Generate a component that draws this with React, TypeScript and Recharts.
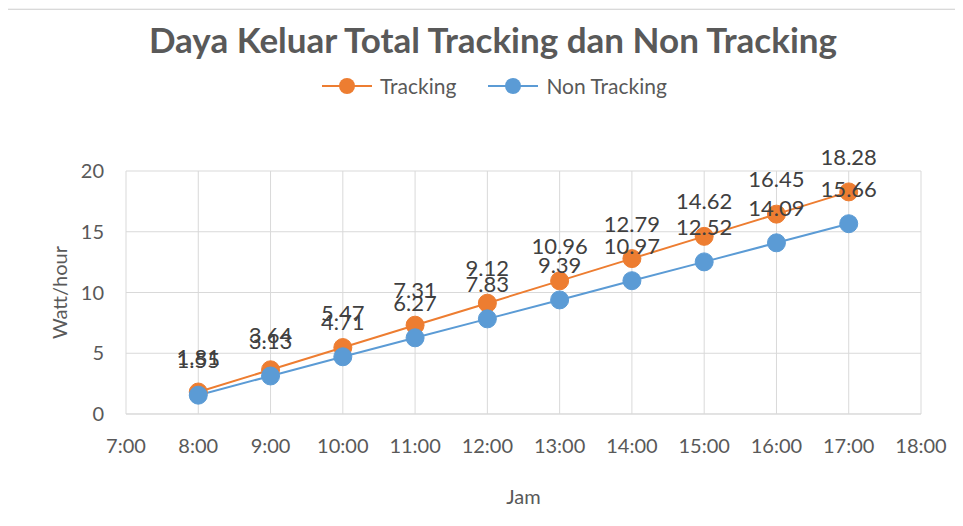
import { LineChart, Line, XAxis, YAxis, CartesianGrid, LabelList, Label } from 'recharts';

const hours = [8, 9, 10, 11, 12, 13, 14, 15, 16, 17];
const tracking = [1.81, 3.64, 5.47, 7.31, 9.12, 10.96, 12.79, 14.62, 16.45, 18.28];
const nonTracking = [1.55, 3.13, 4.71, 6.27, 7.83, 9.39, 10.97, 12.52, 14.09, 15.66];
const xTicks = [7, 8, 9, 10, 11, 12, 13, 14, 15, 16, 17, 18];
const yTicks = [0, 5, 10, 15, 20];

const ORANGE = '#ED7D31';
const BLUE = '#5B9BD5';
const FONT = 'Lato, "Open Sans", sans-serif';

const data = hours.map((h, i) => ({ hour: h, tracking: tracking[i], nonTracking: nonTracking[i] }));

function LegendItem({ color, label }: { color: string; label: string }) {
  return (
    <div style={{ display: 'flex', alignItems: 'center', gap: 8 }}>
      <svg width={50} height={20}>
        <line x1={0} y1={10} x2={50} y2={10} stroke={color} strokeWidth={2} />
        <circle cx={25} cy={10} r={8} fill={color} />
      </svg>
      <span>{label}</span>
    </div>
  );
}

export default function App() {
  return (
    <div style={{ position: 'relative', width: 963, height: 526, margin: '-8px 0 0 -8px', background: '#fff', fontFamily: FONT, overflow: 'hidden' }}>
      <div style={{ position: 'absolute', left: 0, top: 0, width: 963, height: 10, background: '#f2f2f2' }} />
      <div style={{ position: 'absolute', left: 4, top: 9, width: 950, height: 530, border: '1px solid #d9d9d9' }} />
      <div style={{ position: 'absolute', left: 0, top: 18, width: 986, textAlign: 'center', fontSize: 35, fontWeight: 700, color: '#595959' }}>
        Daya Keluar Total Tracking dan Non Tracking
      </div>
      <div style={{ position: 'absolute', left: 322, top: 73, display: 'flex', gap: 32, fontSize: 21, color: '#595959' }}>
        <LegendItem color={ORANGE} label="Tracking" />
        <LegendItem color={BLUE} label="Non Tracking" />
      </div>
      <div style={{ position: 'absolute', left: 0, top: 0 }}>
        <LineChart width={963} height={526} data={data} margin={{ top: 171, right: 42, bottom: 22, left: 46 }}>
          <CartesianGrid stroke="#d9d9d9" strokeWidth={1} />
          <XAxis
            dataKey="hour"
            type="number"
            domain={[7, 18]}
            ticks={xTicks}
            tickFormatter={(h: number) => `${h}:00`}
            height={90}
            axisLine={{ stroke: '#d9d9d9' }}
            tickLine={false}
            tickSize={0}
            tickMargin={25}
            tick={{ fill: '#595959', fontSize: 20, fontFamily: FONT }}
          >
            <Label value="Jam" position="insideBottom" offset={0} fill="#595959" fontSize={20} fontFamily={FONT} />
          </XAxis>
          <YAxis
            type="number"
            domain={[0, 20]}
            ticks={yTicks}
            width={80}
            axisLine={false}
            tickLine={false}
            tickSize={0}
            tickMargin={22}
            tick={{ fill: '#595959', fontSize: 20, fontFamily: FONT }}
          >
            <Label value="Watt/hour" angle={-90} position="insideLeft" offset={14} fill="#595959" fontSize={20} fontFamily={FONT} style={{ textAnchor: 'middle' }} />
          </YAxis>
          <Line
            dataKey="tracking"
            stroke={ORANGE}
            strokeWidth={2}
            dot={{ r: 9, fill: ORANGE, stroke: ORANGE, strokeWidth: 1 }}
            isAnimationActive={false}
          >
            <LabelList dataKey="tracking" position="top" offset={27} fill="#404040" fontSize={22} fontFamily={FONT} />
          </Line>
          <Line
            dataKey="nonTracking"
            stroke={BLUE}
            strokeWidth={2}
            dot={{ r: 9, fill: BLUE, stroke: BLUE, strokeWidth: 1 }}
            isAnimationActive={false}
          >
            <LabelList dataKey="nonTracking" position="top" offset={27} fill="#404040" fontSize={22} fontFamily={FONT} />
          </Line>
        </LineChart>
      </div>
    </div>
  );
}
